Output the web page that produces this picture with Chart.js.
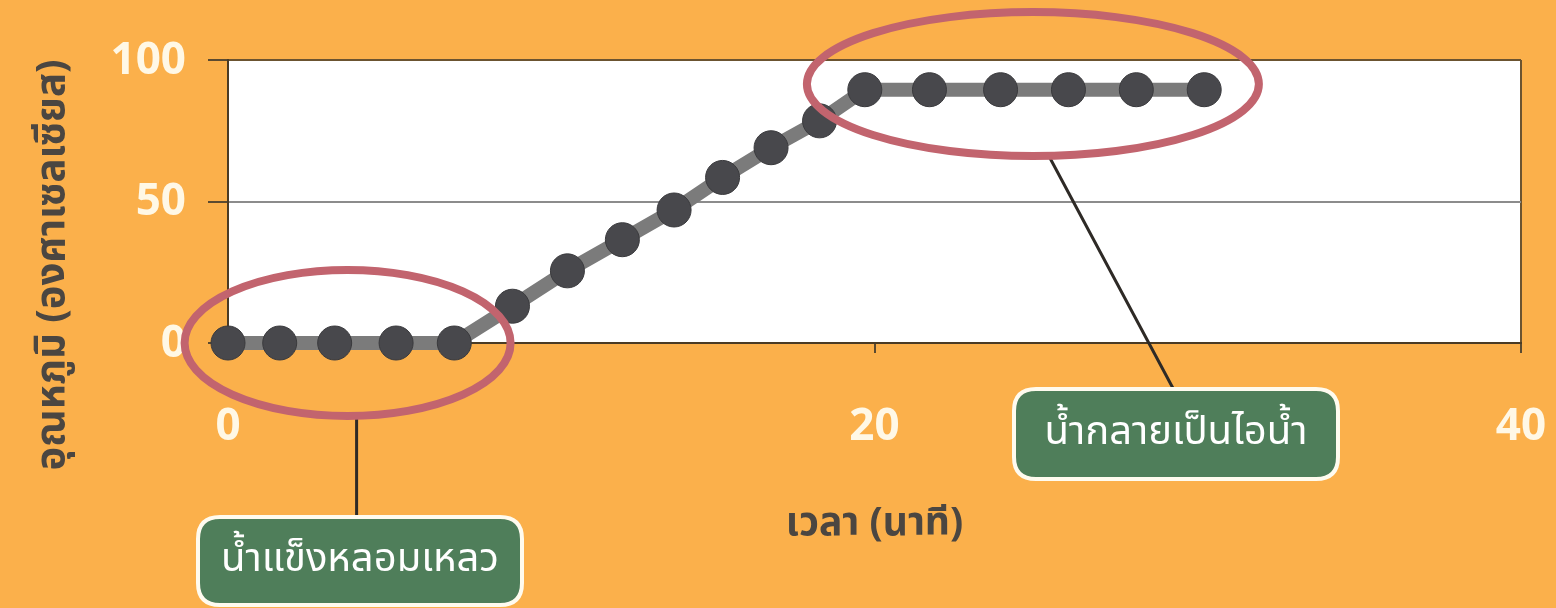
<!DOCTYPE html>
<html>
<head>
<meta charset="utf-8">
<script src="https://cdn.jsdelivr.net/npm/chart.js@4.4.1/dist/chart.umd.min.js"></script>
<style>
  html, body { margin: 0; padding: 0; background: #FBB04B; }
  #wrap { width: 1556px; height: 608px; position: relative; }
</style>
</head>
<body>
<div id="wrap"><canvas id="c" width="1556" height="608"></canvas></div>
<script>
// ---- data ----
const timeMinutes = [0, 1.6, 3.3, 5.2, 7.0, 8.8, 10.5, 12.2, 13.8, 15.3, 16.8, 18.3, 19.7, 21.7, 23.9, 26.0, 28.1, 30.2];
const temperatureC = [0, 0, 0, 0, 0, 13, 25.5, 36.5, 47, 58.5, 69, 78.5, 89.5, 89.5, 89.5, 89.5, 89.5, 89.5];
const xTicks = [0, 20, 40];
const yTicks = [0, 50, 100];
const xTitle = 'เวลา (นาที)';
const yTitle = 'อุณหภูมิ (องศาเซลเซียส)';
const noteMelt = 'น้ำแข็งหลอมเหลว';
const noteBoil = 'น้ำกลายเป็นไอน้ำ';
// annotation anchors in data units (ellipse centers)
const meltCenter = [3.7, 0];
const boilCenter = [24.9, 91.5];

const FONT = '"Noto Sans Thai", "Noto Sans", "Open Sans", sans-serif';
const points = timeMinutes.map((x, i) => ({ x: x, y: temperatureC[i] }));

const bgPlugin = {
  id: 'bg',
  beforeDraw(chart) {
    const { ctx, chartArea: a } = chart;
    ctx.save();
    ctx.fillStyle = '#FBB04B';
    ctx.fillRect(0, 0, chart.width, chart.height);
    ctx.fillStyle = '#FFFFFF';
    ctx.fillRect(a.left, a.top, a.right - a.left, a.bottom - a.top);
    ctx.restore();
  }
};

function roundRect(ctx, x, y, w, h, r) {
  ctx.beginPath();
  ctx.moveTo(x + r, y);
  ctx.lineTo(x + w - r, y);
  ctx.quadraticCurveTo(x + w, y, x + w, y + r);
  ctx.lineTo(x + w, y + h - r);
  ctx.quadraticCurveTo(x + w, y + h, x + w - r, y + h);
  ctx.lineTo(x + r, y + h);
  ctx.quadraticCurveTo(x, y + h, x, y + h - r);
  ctx.lineTo(x, y + r);
  ctx.quadraticCurveTo(x, y, x + r, y);
  ctx.closePath();
}

const notePlugin = {
  id: 'notes',
  afterDatasetsDraw(chart) {
    const { ctx, scales: { x, y } } = chart;
    ctx.save();
    // y axis title
    ctx.save();
    ctx.translate(56, 265);
    ctx.rotate(-Math.PI / 2);
    ctx.fillStyle = '#4B4641';
    ctx.font = 'bold 40px ' + FONT;
    ctx.textAlign = 'center';
    ctx.textBaseline = 'middle';
    ctx.fillText(yTitle, 0, 0);
    ctx.restore();

    const e1x = x.getPixelForValue(meltCenter[0]), e1y = y.getPixelForValue(meltCenter[1]);
    const e2x = x.getPixelForValue(boilCenter[0]), e2y = y.getPixelForValue(boilCenter[1]);

    // connector lines
    ctx.strokeStyle = '#2E2A26';
    ctx.lineWidth = 3;
    ctx.beginPath();
    ctx.moveTo(e1x + 9, e1y + 75);
    ctx.lineTo(e1x + 9, 520);
    ctx.moveTo(e2x + 16, e2y + 72);
    ctx.lineTo(1175, 392);
    ctx.stroke();

    // ellipses
    ctx.strokeStyle = '#C2646E';
    ctx.lineWidth = 8;
    ctx.beginPath();
    ctx.ellipse(e1x, e1y, 163, 73, 0, 0, Math.PI * 2);
    ctx.stroke();
    ctx.beginPath();
    ctx.ellipse(e2x, e2y, 226, 72, 0, 0, Math.PI * 2);
    ctx.stroke();

    // boxes
    const boxes = [
      { x: 198, y: 517, w: 324, h: 88, t: noteMelt },
      { x: 1014, y: 389, w: 324, h: 90, t: noteBoil }
    ];
    boxes.forEach(b => {
      roundRect(ctx, b.x, b.y, b.w, b.h, 22);
      ctx.fillStyle = '#4F7E5A';
      ctx.fill();
      ctx.strokeStyle = '#FFFBEF';
      ctx.lineWidth = 4;
      ctx.stroke();
      ctx.fillStyle = '#FFFFFF';
      ctx.font = '40px ' + FONT;
      ctx.textAlign = 'center';
      ctx.textBaseline = 'middle';
      ctx.fillText(b.t, b.x + b.w / 2, b.y + b.h / 2 + 2);
    });
    ctx.restore();
  }
};

new Chart(document.getElementById('c'), {
  type: 'line',
  data: {
    datasets: [{
      data: points,
      borderColor: '#7B7B7B',
      borderWidth: 14,
      tension: 0,
      pointRadius: 17,
      pointHoverRadius: 17,
      pointBackgroundColor: '#48484C',
      pointBorderColor: '#3A3A3D',
      pointBorderWidth: 1,
      fill: false,
      clip: false
    }]
  },
  options: {
    responsive: false,
    animation: false,
    events: [],
    layout: { padding: { top: 60, right: 35, left: 0, bottom: 0 } },
    plugins: { legend: { display: false }, tooltip: { enabled: false } },
    scales: {
      x: {
        type: 'linear',
        min: 0, max: 40,
        afterFit(s) { s.height = 265; s.paddingLeft = 0; s.paddingRight = 0; },
        afterBuildTicks(s) { s.ticks = xTicks.map(v => ({ value: v })); },
        border: { display: true, color: '#4A3B25', width: 2 },
        grid: {
          drawOnChartArea: true,
          color: ctx => (ctx.tick && ctx.tick.value === 40) ? '#6B5330' : 'rgba(0,0,0,0)',
          lineWidth: 2,
          tickColor: '#5B4A30',
          tickLength: 10
        },
        ticks: {
          color: '#FFF8E6',
          font: { family: FONT, size: 44, weight: 'bold' },
          padding: 52,
          maxRotation: 0
        },
        title: {
          display: true,
          text: xTitle,
          color: '#4B4641',
          font: { family: FONT, size: 39, weight: 'bold' },
          padding: { top: 0, bottom: 57 }
        }
      },
      y: {
        min: 0, max: 100,
        afterFit(s) { s.width = 228; s.paddingTop = 0; s.paddingBottom = 0; },
        afterBuildTicks(s) { s.ticks = yTicks.map(v => ({ value: v })); },
        border: { display: true, color: '#4A3B25', width: 2 },
        grid: {
          color: ctx => ctx.tick.value === 100 ? '#6B5330' : '#8C8C8C',
          lineWidth: 2,
          tickColor: '#5B4A30',
          tickLength: 20
        },
        ticks: {
          color: '#FFF8E6',
          font: { family: FONT, size: 44, weight: 'bold' },
          padding: 22,
          labelOffset: 5
        },
        title: { display: false }
      }
    }
  },
  plugins: [bgPlugin, notePlugin]
});
</script>
</body>
</html>
